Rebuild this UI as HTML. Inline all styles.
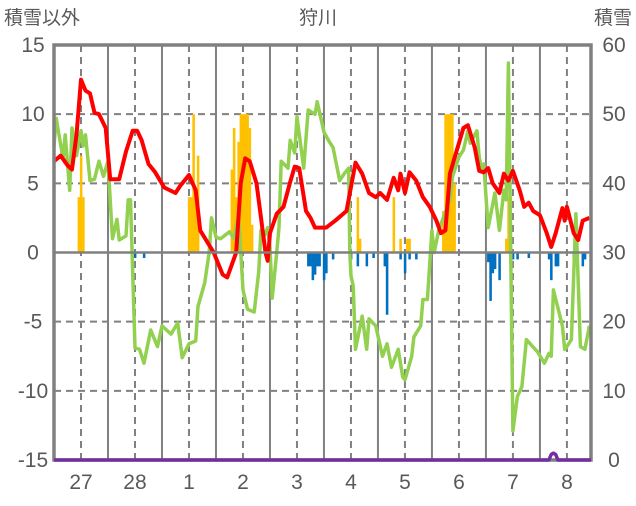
<!DOCTYPE html>
<html><head><meta charset="utf-8"><style>
body{margin:0;background:#fff}
svg text{font-family:"Liberation Sans","Noto Sans CJK JP",sans-serif;fill:#595959}
</style></head><body>
<svg id="chart" width="636" height="501" viewBox="0 0 636 501" xmlns="http://www.w3.org/2000/svg">
<text x="318" y="24" font-size="19" text-anchor="middle">狩川</text>
<text x="4" y="24" font-size="19">積雪以外</text>
<text x="632" y="24" font-size="19" text-anchor="end">積雪</text>
<g id="grid"></g><g id="bars"></g><g id="lines"></g><g id="axes"></g>
</svg>
<script>
const leftTicks=[15,10,5,0,-5,-10,-15];
const rightTicks=[60,50,40,30,20,10,0];
const dayLabels=['27','28','1','2','3','4','5','6','7','8'];
const redH=[0,3,6,8,10,12,14,16,18,20,23,25,29,32,35,37,39,42,45,49,54,56,60,63,65,71,75,77,81,83,85,87,90,94,95,96,99,102,105,107,109,112,114,116,121,125,130,134,137,140,143,145,148,151,153,154,156,158,161,164,167,170,172,174,176,180,182,184,187,189,191,193,195,198,200,202,204,207,209,211,213,216,219,221,223,226,227,228,231,233,235,238];
const redV=[6.6,7,6.3,6,8.5,12.5,11.7,11.5,10.1,10,9,5.3,5.3,7.3,8.8,8.8,8.1,6.4,5.8,4.7,4.3,4.8,5.6,4.5,1.6,0,-1.6,-1.8,0,5,6.8,6.6,5,0,-0.6,1.4,2.8,3.3,5.1,6.2,6.1,3,2.5,1.8,1.8,2.3,3,6.5,5.7,4.3,4,4.3,3.8,5.4,4.5,5.7,4.3,5.8,5.2,4,3.3,2.3,1.4,1.6,5.7,7.9,9,9.2,7.6,5.9,5.8,6.1,5,4.3,5.7,5.2,5.9,4.5,3.3,3.6,3,2.7,1.4,0.4,1.4,3.2,2.3,3.3,1.4,0.9,2.3,2.5];
const greenH=[0,1,4,5,7,8,10,12,13,14,16,18,20,22,24,25,26,28,29,32,33,34,36,38,40,43,46,48,52,55,57,60,63,64,67,69,70,72,74,78,80,82,84,86,89,91,92,93,95,96,97,99,100,101,104,105,107,108,111,113,116,117,120,122,124,127,129,131,131.5,132,133,134,137,139,140,143,146,148,150,153,155,156,159,160,163,164,166,168,169,171,173,176,177,180,182,184,185,188,189,190,191,193,196,198,200,201,202,204,206,208,210,215,218,220,221,222,224,226,227,228,230,232,234,236,238];
const greenD=[45.4,49.4,43.6,47,39,48,44,47.6,45.4,47,40.4,40.6,43.2,41,43.2,37.6,32,34.8,31.8,32.4,37.6,37.6,16.2,16,14,18.8,16.4,19.4,18.2,19.8,14.8,16.8,17.2,22.2,25.6,30,35,32.2,32,33,32,35.6,24.6,21.8,21.4,27.2,33.2,32,33.6,30.8,23.4,30,33.6,43.2,42.2,46.2,44.4,49.6,42.2,50.6,50,51.8,47.4,46.2,45.2,40.4,41.4,42.2,30,26.6,25.2,16,20.8,16,20.4,19.4,15,16.8,13.4,16,12,11.6,15,17.8,19.4,23.2,23.2,33.2,30,33.2,35,37.6,40.8,43.8,44.8,47.6,45.8,47.6,43.8,42.2,42.8,33.6,38.6,33.2,39,37.6,57.4,4.2,9.2,10.6,17.4,15.6,14,15.4,15,24.6,22,19.4,16,16.4,17.4,35.6,16.4,16,19.4];
const purpleH=[0,220,221,222,223,224,238.7];
const purpleD=[0,0,0.8,1,0.8,0,0];
const barH=[11,12,13,60,61,62,63,64,79,80,81,82,83,84,85,86,87,88,135,136,151,154,157,158,173,174,175,176,177,178,201,202,203,36,40,113,114,115,116,117,118,120,121,124,132,135,139,142,147,148,154,156,158,161,193,194,195,196,198,204,206,211,220,221,223,224,231,232,235,236];
const barV=[4,7,4,4,4,10,4,7,6,9,4,8,10,10,10,10,9,2,4,1,4,1,1,1,3,10,10,10,10,5,1,4,4,-0.4,-0.4,-1,-1,-2,-1.6,-1,-1,-2,-1.5,-0.5,-0.5,-1,-1,-0.4,-1,-4.5,-0.5,-1.5,-0.5,-0.5,-0.7,-3.5,-1.5,-1.2,-2,-0.5,-0.5,-0.4,-0.5,-2,-1,-1,-1,-0.5,-1,-0.5];

const NS='http://www.w3.org/2000/svg';
const X0=54,X1=591,Y0=45,Y1=460,HMAX=238.7;
const x=h=>X0+(h/HMAX)*(X1-X0);
const yL=v=>Y1-(v+15)/30*(Y1-Y0);
const yR=d=>Y1-d/60*(Y1-Y0);
function mk(tag,attrs,parent){const e=document.createElementNS(NS,tag);for(const k in attrs)e.setAttribute(k,attrs[k]);document.getElementById(parent).appendChild(e);return e;}
leftTicks.forEach(v=>{if(v===15||v===-15||v===0)return;
 const l=mk('line',{x1:X0,x2:X1,y1:yL(v),y2:yL(v),stroke:'#808080','stroke-width':2,'stroke-dasharray':'7,5'},'grid');
 
 });
dayLabels.forEach((d,i)=>{const h=12+24*i;
 const l=mk('line',{x1:x(h),x2:x(h),y1:Y0,y2:Y1,stroke:'#808080','stroke-width':2,'stroke-dasharray':'7,5'},'grid');
 
 
 if(h+12<HMAX){const m=mk('line',{x1:x(h+12),x2:x(h+12),y1:Y0,y2:Y1,stroke:'#808080','stroke-width':2},'grid');
 
 }
 const t=mk('text',{x:x(h),y:489,'font-size':21,'text-anchor':'middle'},'axes');t.textContent=d;
 
 });
barH.forEach((h,i)=>{const v=barV[i];const w=(X1-X0)/HMAX;
 const r=mk('rect',{x:x(h)-w/2,width:w+0.3,y:Math.min(yL(v),yL(0)),height:Math.abs(yL(v)-yL(0)),fill:v>0?'#FFC000':'#0070C0'},'bars');
 
 });
function line(H,V,f,col,w,name,parent){const p=mk('polyline',{points:H.map((h,i)=>x(h).toFixed(1)+','+f(V[i]).toFixed(1)).join(' '),fill:'none',stroke:col,'stroke-width':w,'stroke-linejoin':'round'},parent);
 
 }
line(greenH,greenD,yR,'#92D050',3.5,'snow-depth-line','lines');
line(redH,redV,yL,'#FF0000',4,'temperature-line','lines');
const zero=mk('line',{x1:X0,x2:X1,y1:yL(0),y2:yL(0),stroke:'#808080','stroke-width':2.5},'axes');


const fr=mk('rect',{x:X0,y:Y0,width:X1-X0,height:Y1-Y0,fill:'none',stroke:'#808080','stroke-width':3.5},'axes');


line(purpleH,purpleD,yR,'#7030A0',3.5,'new-snow-line','axes');
leftTicks.forEach(v=>{const t=mk('text',{x:33,y:yL(v)+7,'font-size':21,'text-anchor':'middle'},'axes');t.textContent=v;
 
 });
rightTicks.forEach(d=>{const t=mk('text',{x:614,y:yR(d)+7,'font-size':21,'text-anchor':'middle'},'axes');t.textContent=d;
 
 });
</script>
</body></html>
